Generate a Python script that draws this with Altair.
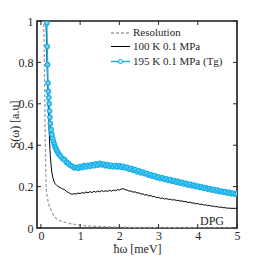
import altair as alt
import pandas as pd

# shared energy grid (meV) for the two temperature series
energy = [0.12, 0.13, 0.14, 0.15, 0.16, 0.17, 0.18, 0.19, 0.20, 0.21, 0.22, 0.23, 0.24,
          0.26, 0.28, 0.30, 0.32, 0.34, 0.36, 0.38, 0.40, 0.43, 0.46, 0.50,
          0.55, 0.60, 0.65, 0.70, 0.75, 0.80, 0.85, 0.90, 0.95, 1.00,
          1.05, 1.10, 1.15, 1.20, 1.25, 1.30, 1.35, 1.40, 1.45, 1.50,
          1.55, 1.60, 1.65, 1.70, 1.75, 1.80, 1.85, 1.90, 1.95, 2.00,
          2.05, 2.10, 2.15, 2.20, 2.25, 2.30, 2.35, 2.40, 2.45, 2.50,
          2.55, 2.60, 2.65, 2.70, 2.75, 2.80, 2.85, 2.90, 2.95, 3.00,
          3.05, 3.10, 3.15, 3.20, 3.25, 3.30, 3.35, 3.40, 3.45, 3.50,
          3.55, 3.60, 3.65, 3.70, 3.75, 3.80, 3.85, 3.90, 3.95, 4.00,
          4.05, 4.10, 4.15, 4.20, 4.25, 4.30, 4.35, 4.40, 4.45, 4.50,
          4.55, 4.60, 4.65, 4.70, 4.75, 4.80, 4.85, 4.90, 4.95, 5.00]

s_195K = [1.35, 1.22, 1.10, 0.99, 0.877, 0.79, 0.70, 0.66, 0.63, 0.60, 0.565, 0.535, 0.505,
          0.475, 0.452, 0.432, 0.418, 0.405, 0.393, 0.384, 0.376, 0.365, 0.356, 0.347,
          0.336, 0.330, 0.318, 0.312, 0.303, 0.298, 0.291, 0.293, 0.289, 0.297,
          0.292, 0.301, 0.296, 0.303, 0.298, 0.307, 0.301, 0.310, 0.304, 0.312,
          0.305, 0.309, 0.301, 0.306, 0.298, 0.303, 0.296, 0.302, 0.295, 0.301,
          0.294, 0.298, 0.290, 0.293, 0.284, 0.288, 0.279, 0.282, 0.272, 0.276,
          0.267, 0.270, 0.262, 0.264, 0.255, 0.258, 0.250, 0.253, 0.244, 0.247,
          0.239, 0.243, 0.235, 0.238, 0.230, 0.234, 0.226, 0.229, 0.221, 0.225,
          0.217, 0.221, 0.213, 0.216, 0.208, 0.212, 0.204, 0.207, 0.200, 0.203,
          0.196, 0.199, 0.192, 0.195, 0.188, 0.191, 0.184, 0.187, 0.180, 0.183,
          0.176, 0.179, 0.173, 0.176, 0.169, 0.172, 0.166, 0.169, 0.163, 0.166]

s_100K = [1.15, 1.00, 0.92, 0.84, 0.77, 0.70, 0.64, 0.58, 0.52, 0.47, 0.42, 0.38, 0.35,
          0.30, 0.268, 0.247, 0.232, 0.222, 0.215, 0.210, 0.206, 0.202, 0.198, 0.195,
          0.189, 0.186, 0.176, 0.172, 0.166, 0.163, 0.166, 0.164, 0.169, 0.166,
          0.171, 0.168, 0.174, 0.170, 0.176, 0.171, 0.177, 0.173, 0.179, 0.175,
          0.181, 0.176, 0.180, 0.177, 0.182, 0.178, 0.183, 0.180, 0.185, 0.184,
          0.188, 0.190, 0.185, 0.183, 0.178, 0.179, 0.173, 0.175, 0.169, 0.170,
          0.164, 0.165, 0.159, 0.161, 0.155, 0.157, 0.151, 0.152, 0.147, 0.148,
          0.143, 0.145, 0.140, 0.142, 0.138, 0.139, 0.135, 0.137, 0.133, 0.134,
          0.130, 0.131, 0.127, 0.128, 0.123, 0.125, 0.120, 0.121, 0.117, 0.118,
          0.114, 0.115, 0.111, 0.112, 0.108, 0.109, 0.105, 0.106, 0.103, 0.103,
          0.100, 0.101, 0.098, 0.098, 0.096, 0.096, 0.095, 0.095, 0.095, 0.096]

res_energy = [0.05, 0.06, 0.07, 0.08, 0.09, 0.10, 0.11, 0.12, 0.13, 0.14, 0.16, 0.18, 0.20,
              0.24, 0.28, 0.32, 0.36, 0.40, 0.45, 0.50, 0.58, 0.70, 0.80, 0.90, 1.00,
              1.20, 1.40, 1.70, 2.00, 2.50, 3.00, 4.00, 5.00]
res_values = [1.30, 1.10, 1.00, 0.90, 0.78, 0.62, 0.45, 0.30, 0.22, 0.18, 0.15, 0.13, 0.115,
              0.095, 0.075, 0.062, 0.052, 0.045, 0.038, 0.034, 0.029, 0.023, 0.019, 0.016, 0.014,
              0.010, 0.008, 0.006, 0.004, 0.003, 0.002, 0.001, 0.001]

legend_labels = ["Resolution", "100 K 0.1 MPa", "195 K 0.1 MPa (Tg)"]
x_ticks = [0, 1, 2, 3, 4, 5]
y_ticks = [0, 0.2, 0.4, 0.6, 0.8, 1.0]

FONT = "Liberation Serif"
CYAN = "#19B2E8"
CYAN_FILL = "#80d5f5"
GRAY = "#a0a0a0"
INK = "#262626"
W, H = 200, 207

df_main = pd.DataFrame({"E": energy, "s195": s_195K, "s100": s_100K})
df_res = pd.DataFrame({"E": res_energy, "S": res_values})

xs = alt.Scale(domain=[-0.1, 5], nice=False, zero=False)
ys = alt.Scale(domain=[0, 1], nice=False)

x_axis = alt.Axis(
    values=x_ticks, format="~g", title="ħω [meV]", grid=False, ticks=False, domain=False,
    labelOverlap=False, labelFlush=False,
    labelPadding=2, labelFontSize=12, titleFontSize=12, titleFontWeight="normal",
    titleX=100, titleY=24, titleBaseline="alphabetic", titleAlign="center",
    labelFont=FONT, titleFont=FONT, labelColor=INK, titleColor=INK)

y_axis = alt.Axis(
    values=y_ticks, format="~g", title="S(ω) [a.u]", grid=False, ticks=False, domain=False,
    labelOverlap=False, labelFlush=False,
    labelPadding=4, labelFontSize=12, titleFontSize=12, titleFontWeight="normal",
    titleX=-23, titleY=103, titleAngle=270, titleAlign="center", titleBaseline="middle",
    labelFont=FONT, titleFont=FONT, labelColor=INK, titleColor=INK)


def xq(field):
    return alt.X(field, scale=xs, axis=x_axis, title="ħω [meV]")


def yq(field):
    return alt.Y(field, scale=ys, axis=y_axis, title="S(ω) [a.u]")


res = alt.Chart(df_res).mark_line(color=GRAY, strokeDash=[3, 2], strokeWidth=1.3, clip=True).encode(
    x=xq("E:Q"), y=yq("S:Q"))

black = alt.Chart(df_main).mark_line(color="black", strokeWidth=1, clip=True).encode(
    x=xq("E:Q"), y=yq("s100:Q"))

cyan_line = alt.Chart(df_main).mark_line(color=CYAN, strokeWidth=1.5, clip=True).encode(
    x=xq("E:Q"), y=yq("s195:Q"))

cyan_pts = alt.Chart(df_main).mark_point(color=CYAN, fill=CYAN_FILL, filled=False, fillOpacity=1,
                                         size=18, strokeWidth=1.4, clip=True).encode(
    x=xq("E:Q"), y=yq("s195:Q"))

# legend (drawn inside the plot, top right)
leg_rows = [12, 25.5, 40.5]
one = pd.DataFrame({"a": [0]})
leg_res = alt.Chart(one).mark_rule(color=GRAY, strokeDash=[3, 2], strokeWidth=1.3).encode(
    x=alt.value(74), x2=alt.value(93), y=alt.value(leg_rows[0]))
leg_blk = alt.Chart(one).mark_rule(color="black", strokeWidth=1).encode(
    x=alt.value(74), x2=alt.value(93), y=alt.value(leg_rows[1]))
leg_cyn = alt.Chart(one).mark_rule(color=CYAN, strokeWidth=1.5).encode(
    x=alt.value(74), x2=alt.value(93), y=alt.value(leg_rows[2]))
leg_pt = alt.Chart(one).mark_point(color=CYAN, fill="white", filled=False, fillOpacity=1,
                                   size=16, strokeWidth=1.2).encode(
    x=alt.value(83.5), y=alt.value(leg_rows[2]))
leg_txt = [
    alt.Chart(pd.DataFrame({"t": [lab]})).mark_text(
        align="left", baseline="middle", font=FONT, fontSize=11, color=INK).encode(
        text="t:N", x=alt.value(96), y=alt.value(r))
    for lab, r in zip(legend_labels, leg_rows)
]

# inward ticks on all four sides
df_xt = pd.DataFrame({"v": x_ticks})
df_yt = pd.DataFrame({"v": y_ticks})
tick_b = alt.Chart(df_xt).mark_rule(color=INK, strokeWidth=1).encode(
    x=xq("v:Q"), y=alt.value(H), y2=alt.value(H - 4))
tick_t = alt.Chart(df_xt).mark_rule(color=INK, strokeWidth=1).encode(
    x=xq("v:Q"), y=alt.value(0), y2=alt.value(4))
tick_l = alt.Chart(df_yt).mark_rule(color=INK, strokeWidth=1).encode(
    y=yq("v:Q"), x=alt.value(0), x2=alt.value(4))
tick_r = alt.Chart(df_yt).mark_rule(color=INK, strokeWidth=1).encode(
    y=yq("v:Q"), x=alt.value(W), x2=alt.value(W - 4))

dpg = alt.Chart(pd.DataFrame({"t": ["DPG"]})).mark_text(
    align="center", baseline="alphabetic", font=FONT, fontSize=12, color=INK).encode(
    text="t:N", x=alt.value(175), y=alt.value(204))

chart = alt.layer(res, black, cyan_line, cyan_pts, leg_res, leg_blk, leg_cyn, leg_pt, *leg_txt,
                  tick_b, tick_t, tick_l, tick_r, dpg).properties(
    width=W, height=H,
    autosize=alt.AutoSizeParams(type="none"),
    padding={"left": 29, "top": 13, "right": 17, "bottom": 28},
    background="white",
).configure_view(stroke="#1a1a1a", strokeWidth=1.6)

chart.save("out.html", embed_options={"renderer": "svg", "actions": False})
